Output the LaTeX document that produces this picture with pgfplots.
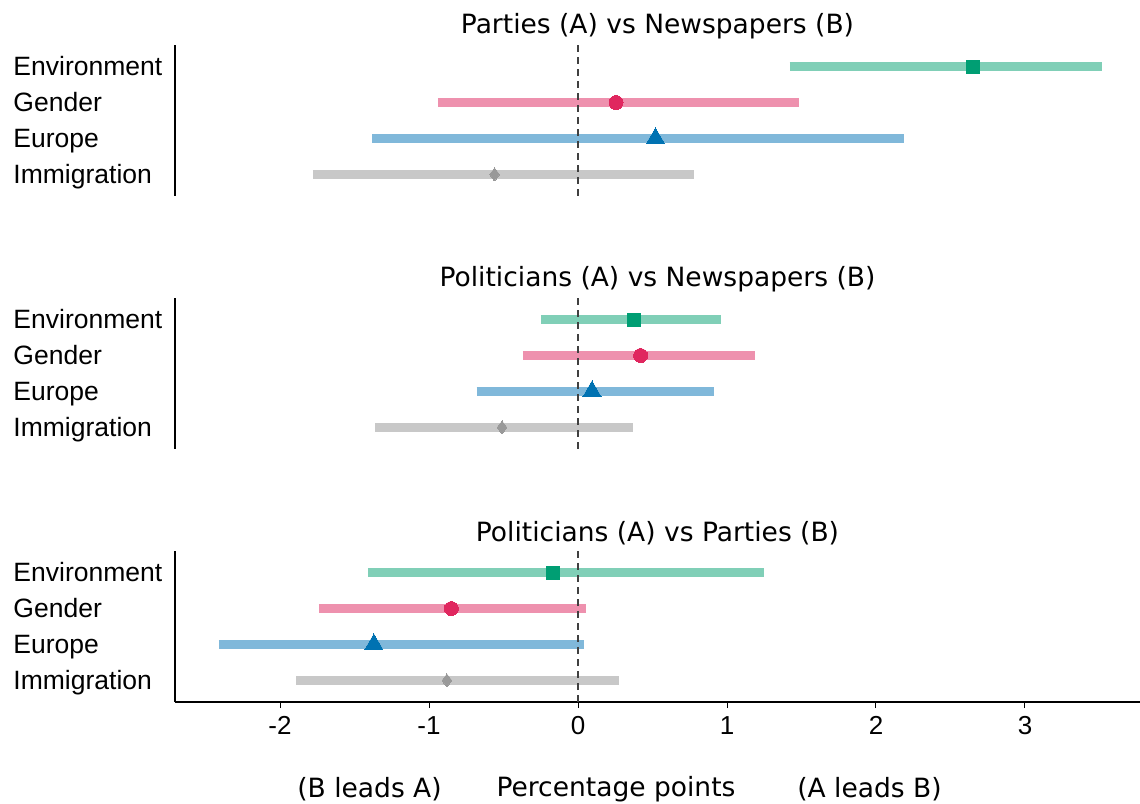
\documentclass[border=0pt]{standalone}
\usepackage{pgfplots}
\pgfplotsset{compat=1.18}
\usepackage{fontspec}
\setmainfont{DejaVu Sans}
\newfontfamily\labfont{Liberation Sans}

\definecolor{envbar}{HTML}{80CFB7}
\definecolor{envmk}{HTML}{009E73}
\definecolor{genbar}{HTML}{EE91AE}
\definecolor{genmk}{HTML}{E0275F}
\definecolor{eurbar}{HTML}{80B8DA}
\definecolor{eurmk}{HTML}{0072B2}
\definecolor{immbar}{HTML}{C8C8C8}
\definecolor{immmk}{HTML}{999999}

\pgfplotsset{
  panel/.style={
    scale only axis, width=965pt, height=151pt,
    xmin=-2.705, xmax=3.772, ymin=-0.6, ymax=3.6,
    ytick={0,1,2,3},
    yticklabels={Immigration,Europe,Gender,Environment},
    yticklabel style={font=\labfont\fontsize{26.5}{30}\selectfont,
      anchor=base east, text width=152pt, align=left, xshift=-6pt, yshift=-9pt},
    major y tick style={draw=none},
    axis y line*=left,
    y axis line style={line width=1.3pt, -},
    clip=false,
    title style={font=\fontsize{26.5}{30}\selectfont, yshift=-4pt},
  },
  bar/.style={line width=9pt, line cap=butt, forget plot},
  mk/.style={only marks, forget plot},
  zero/.style={dash pattern=on 7pt off 5pt, line width=1.2pt, color=black!75, forget plot},
  sq/.style={mark=square*, mark size=6.5pt},
  ci/.style={mark=*, mark size=7pt},
  tri/.style={mark=triangle*, mark size=10.5pt},
  dia/.style={mark=diamond*, mark size=6.5pt},
}

% one interval bar: y, low, high, colour
\newcommand\ci[4]{%
  \addplot[bar, color=#4] coordinates {(#2,#1) (#3,#1)};
}
% one point estimate: y, value, colour, mark style
\newcommand\est[4]{%
  \addplot[mk, #4, color=#3, mark options={fill=#3, draw=#3, line width=0pt}] coordinates {(#2,#1)};
}

\begin{document}
\begin{tikzpicture}
\useasboundingbox (0,0) rectangle (1140pt,803pt);

% ---------- Parties (A) vs Newspapers (B)
\begin{axis}[panel, at={(175pt,607pt)}, anchor=south west,
  axis x line=none, title={Parties (A) vs Newspapers (B)}]
  \ci{3}{1.42}{3.52}{envbar}
  \ci{2}{-0.94}{1.48}{genbar}
  \ci{1}{-1.38}{2.19}{eurbar}
  \ci{0}{-1.78}{0.78}{immbar}
  \addplot[zero] coordinates {(0,-0.6) (0,3.6)};
  \est{3}{2.65}{envmk}{sq}
  \est{2}{0.255}{genmk}{ci}
  \est{1}{0.52}{eurmk}{tri}
  \est{0}{-0.56}{immmk}{dia}
\end{axis}

% ---------- Politicians (A) vs Newspapers (B)
\begin{axis}[panel, at={(175pt,354pt)}, anchor=south west,
  axis x line=none, title={Politicians (A) vs Newspapers (B)}]
  \ci{3}{-0.25}{0.96}{envbar}
  \ci{2}{-0.37}{1.19}{genbar}
  \ci{1}{-0.68}{0.91}{eurbar}
  \ci{0}{-1.36}{0.37}{immbar}
  \addplot[zero] coordinates {(0,-0.6) (0,3.6)};
  \est{3}{0.376}{envmk}{sq}
  \est{2}{0.42}{genmk}{ci}
  \est{1}{0.094}{eurmk}{tri}
  \est{0}{-0.51}{immmk}{dia}
\end{axis}

% ---------- Politicians (A) vs Parties (B)
\begin{axis}[panel, at={(175pt,101pt)}, anchor=south west,
  axis x line*=bottom,
  x axis line style={line width=2pt, -},
  xtick={-2,-1,0,1,2,3},
  xticklabels={-2,-1,0,1,2,3},
  xticklabel style={font=\labfont\fontsize{26}{30}\selectfont, yshift=-5pt},
  yticklabel style={xshift=6pt},
  major x tick style={line width=1pt, black},
  tick align=outside, major tick length=6pt,
  title={Politicians (A) vs Parties (B)}]
  \ci{3}{-1.41}{1.25}{envbar}
  \ci{2}{-1.74}{0.054}{genbar}
  \ci{1}{-2.41}{0.04}{eurbar}
  \ci{0}{-1.89}{0.275}{immbar}
  \addplot[zero] coordinates {(0,-0.6) (0,3.6)};
  \est{3}{-0.17}{envmk}{sq}
  \est{2}{-0.85}{genmk}{ci}
  \est{1}{-1.37}{eurmk}{tri}
  \est{0}{-0.88}{immmk}{dia}
  \node[font=\fontsize{26.5}{30}\selectfont] at (rel axis cs:0.2016,0) [yshift=-87pt] {(B leads A)};
  \node[font=\fontsize{26.5}{30}\selectfont] at (rel axis cs:0.457,0) [yshift=-87pt] {Percentage points};
  \node[font=\fontsize{26.5}{30}\selectfont] at (rel axis cs:0.7197,0) [yshift=-87pt] {(A leads B)};
\end{axis}
\end{tikzpicture}
\end{document}
